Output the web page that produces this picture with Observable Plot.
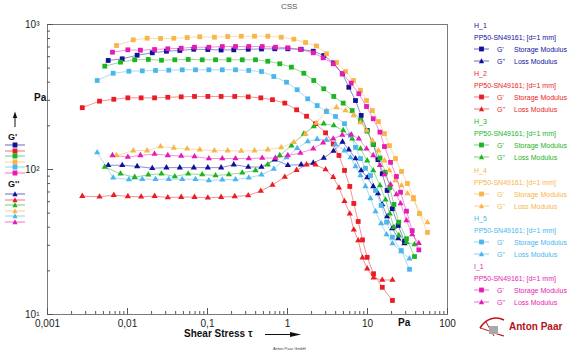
<!DOCTYPE html>
<html><head><meta charset="utf-8">
<script src="https://cdn.jsdelivr.net/npm/d3@7"></script>
<script src="https://cdn.jsdelivr.net/npm/@observablehq/plot@0.6"></script>
<style>
body{margin:0;background:#fff;}
#wrap{position:relative;width:579px;height:353px;font-family:"Liberation Sans",Arial,sans-serif;overflow:hidden;background:#fff;}
#wrap svg.plot{position:absolute;left:0;top:0;}
.abs{position:absolute;white-space:nowrap;line-height:1;transform:translateY(-50%);}
</style></head><body><div id="wrap"></div>
<script>
// ---- data (shear stress in Pa, moduli in Pa) ----
const sampleNames = ["H_1","H_2","H_3","H_4","H_5","I_1"];
const sampleColors = ["#10109a","#ea1c24","#1db322","#f7b54a","#4bb6ec","#e41cb3"];
const geometry = "PP50-SN49161; [d=1 mm]";

const stressH1 = [0.00574,0.00859,0.0132,0.0204,0.0307,0.0451,0.0674,0.101,0.148,0.213,0.323,0.473,0.693,1.01,1.48,2.10,2.84,3.76,4.87,5.84,7.08,8.34,9.91,11.8,13.5,15.3,17.6,20.4,24.2,29.0];
const storageH1 = [565,580,614,638,654,662,675,672,667,669,675,678,680,680,675,654,611,544,457,369,299,236,186,149,117,93.4,71.7,53.6,41.1,31.9];
const lossH1 = [107,107,105,102,103,103,103,103,103,108,104,104,117,107,108,111,120,134,155,137,119,98.4,88.1,76.4,68.3,57.4,47.4,39.2,33.4,30.9];

const stressH2 = [0.00272,0.00447,0.00674,0.0101,0.0148,0.0218,0.0319,0.0469,0.0688,0.101,0.148,0.219,0.323,0.464,0.649,0.925,1.30,1.73,2.24,2.99,3.73,4.40,5.16,6.01,6.74,7.65,8.66,9.91,11.9,15.3,20.5];
const storageH2 = [267,296,305,312,312,312,315,317,319,319,319,319,317,312,303,287,258,233,207,179,150,125,98.5,76.4,58.3,43.8,32.7,24.8,19.1,15.4,12.5];
const lossH2 = [65.5,64.9,66.5,65.2,64.9,65.5,64.1,64.5,64.5,63.8,64.5,65.2,66.2,71.1,78.2,88.8,98.9,108,108,100,88.5,74.8,60.4,49.5,38.4,32.4,24.6,20.7,17.9,17.3,17.3];

const stressH3 = [0.0052,0.00818,0.0123,0.0182,0.0266,0.039,0.0574,0.0859,0.126,0.185,0.272,0.398,0.567,0.801,1.12,1.60,2.13,2.84,3.79,4.97,6.44,8.18,9.91,11.8,14.3,16.8,19.0,21.4,24.6,30.7,38.7];
const storageH3 = [516,550,571,574,567,571,574,571,571,571,571,571,558,536,508,461,411,360,319,287,255,218,184,149,120,95.8,75.1,57.4,43.3,33.3,25.1];
const lossH3 = [104,93.4,88.5,91.9,93.4,89.5,93.4,92.4,90.9,92.4,94.9,98.4,108,125,146,176,198,207,201,186,163,139,115,98.4,77.6,61.8,49.5,40.0,35.1,31.5,30.4];

const stressH4 = [0.00729,0.0118,0.0176,0.0259,0.0379,0.0557,0.0801,0.122,0.179,0.264,0.387,0.567,0.834,1.20,1.68,2.30,3.07,4.10,5.31,6.68,8.18,9.72,11.5,13.7,16.3,18.8,22.4,26.6,31.6,37.6,44.7,56.2];
const storageH4 = [716,784,804,801,804,813,823,817,826,830,830,830,817,792,751,711,628,547,474,411,351,299,255,214,177,146,119,96.9,80.1,64.1,49.7,36.8];
const lossH4 = [125,135,135,144,141,139,137,135,135,134,135,137,142,154,176,209,255,268,255,236,211,186,158,135,115,98.4,84.0,77.6,68.3,62.1,49.7,43.1];

const stressH5 = [0.00418,0.00662,0.0104,0.0153,0.0224,0.0328,0.0483,0.0708,0.104,0.153,0.224,0.328,0.473,0.674,0.972,1.32,1.79,2.35,3.07,3.98,5.16,6.13,7.08,8.18,9.44,10.9,12.6,14.8,17.3,20.5,26.4,33.5];
const storageH5 = [411,461,476,479,482,484,487,487,487,487,487,482,474,438,400,355,307,276,251,232,207,172,142,119,102,90.9,71.7,56.5,43.3,34.1,27.6,20.5];
const lossH5 = [131,87.7,85.3,85.7,85.7,85.7,85.7,85.7,84.0,84.9,85.3,87.7,91.9,101,121,140,156,162,160,149,135,121,105,90.9,76.4,63.1,51.3,42.4,35.6,30.9,27.2,24.3];

const stressI1 = [0.00649,0.0101,0.0145,0.0218,0.0319,0.0469,0.0688,0.104,0.153,0.224,0.328,0.483,0.708,1.01,1.45,2.10,2.79,3.73,4.83,6.25,7.79,9.72,11.8,14.3,16.3,19.4,23.0,25.9,30.7,36.2,43.8];
const storageI1 = [644,669,665,672,680,686,697,697,705,705,705,705,697,691,672,638,589,536,457,394,333,272,224,181,144,112,89.5,69.7,51.6,37.9,27.9];
const lossI1 = [125,122,125,128,125,124,123,119,119,119,119,120,120,125,130,139,153,163,173,174,163,139,125,107,92.4,78.8,67.2,58.3,44.5,35.6,31.0];

const xMajor = [0.001,0.01,0.1,1,10,100];
const xMajorLabels = ["0,001","0,01","0,1","1","10","100"];
const yMajor = [10,100,1000];
const yMajorLabels = ["10¹","10²","10³"];

// ---- build ----
const stresses = [stressH1,stressH2,stressH3,stressH4,stressH5,stressI1];
const storages = [storageH1,storageH2,storageH3,storageH4,storageH5,storageI1];
const losses = [lossH1,lossH2,lossH3,lossH4,lossH5,lossI1];

const xMinor = [], yMinor = [];
for (const d of [0.001,0.01,0.1,1,10]) for (let k=2;k<=9;k++) xMinor.push(+(d*k).toPrecision(3));
for (const d of [10,100]) for (let k=2;k<=9;k++) yMinor.push(d*k);

const marks = [];
sampleNames.forEach((name, i) => {
  const c = sampleColors[i];
  const rp = stresses[i].map((x,j)=>({x, y: storages[i][j]}));
  const rpp = stresses[i].map((x,j)=>({x, y: losses[i][j]}));
  marks.push(Plot.line(rpp, {x:"x", y:"y", stroke:c, strokeWidth:0.8, strokeOpacity:0.6}));
  marks.push(Plot.line(rp, {x:"x", y:"y", stroke:c, strokeWidth:0.8, strokeOpacity:0.6}));
});
sampleNames.forEach((name, i) => {
  const c = sampleColors[i];
  const rp = stresses[i].map((x,j)=>({x, y: storages[i][j]}));
  const rpp = stresses[i].map((x,j)=>({x, y: losses[i][j]}));
  marks.push(Plot.dot(rpp, {x:"x", y:"y", symbol:"triangle", fill:c, r:2.3}));
  marks.push(Plot.dot(rp, {x:"x", y:"y", symbol:"square", fill:c, r:2.7}));
});

const plot = Plot.plot({
  width: 579, height: 353,
  marginLeft: 47, marginRight: 132, marginTop: 24, marginBottom: 39,
  style: {fontFamily: "Liberation Sans, Arial, sans-serif", fontSize: "10px", color: "#222", background: "transparent"},
  x: {type: "log", domain: [0.001, 100]},
  y: {type: "log", domain: [10, 1000]},
  marks: [
    Plot.frame({stroke: "#7a7a7a", strokeWidth: 1}),
    Plot.axisX({ticks: xMinor, tickSize: -3, text: null, label: null, stroke: "#555"}),
    Plot.axisX({ticks: xMajor, tickSize: -6, text: null, label: null, stroke: "#555"}),
    Plot.axisX({ticks: xMajor, tickSize: 0, tickPadding: 5, tickFormat: (d,i) => xMajorLabels[xMajor.indexOf(d)], label: null, fontSize: 10}),
    Plot.axisY({ticks: yMinor, tickSize: -3, text: null, label: null, stroke: "#555"}),
    Plot.axisY({ticks: yMajor, tickSize: -6, text: null, label: null, stroke: "#555"}),
    Plot.axisY({ticks: yMajor, tickSize: 0, tickPadding: 8, tickFormat: d => yMajorLabels[yMajor.indexOf(d)], label: null, fontSize: 10}),
    ...marks
  ]
});
plot.classList.add("plot");
const wrap = document.getElementById("wrap");
wrap.appendChild(plot);

function addText(txt, x, y, css) {
  const d = document.createElement("div");
  d.className = "abs";
  d.textContent = txt;
  d.style.left = x + "px"; d.style.top = y + "px";
  Object.assign(d.style, css || {});
  wrap.appendChild(d);
  return d;
}
function markerSvg(color, sym, x, y, w) {
  const ns = "http://www.w3.org/2000/svg";
  const s = document.createElementNS(ns, "svg");
  s.setAttribute("width", w); s.setAttribute("height", 8);
  s.style.position = "absolute"; s.style.left = x + "px"; s.style.top = (y - 4) + "px";
  const l = document.createElementNS(ns, "line");
  l.setAttribute("x1", 0); l.setAttribute("x2", w); l.setAttribute("y1", 4); l.setAttribute("y2", 4);
  l.setAttribute("stroke", color); l.setAttribute("stroke-width", 0.9); l.setAttribute("stroke-opacity", 0.7);
  s.appendChild(l);
  const m = document.createElementNS(ns, "path");
  const cx = w/2;
  if (sym === "square") m.setAttribute("d", `M${cx-2.4},1.6h4.8v4.8h-4.8z`);
  else m.setAttribute("d", `M${cx},1.3L${cx+2.6},6.2L${cx-2.6},6.2z`);
  m.setAttribute("fill", color);
  s.appendChild(m);
  wrap.appendChild(s);
}

// title & labels
addText("CSS", 281, 7, {fontSize: "8px", color: "#555"});
addText("Pa", 34, 98, {fontSize: "10px", fontWeight: "bold", color: "#111"});
addText("Pa", 398, 323, {fontSize: "10px", fontWeight: "bold", color: "#111"});
addText("Shear Stress τ", 184, 334, {fontSize: "10px", fontWeight: "bold", color: "#111"});
addText("Anton Paar GmbH", 273, 349, {fontSize: "4px", color: "#444"});

// axis arrow (x label)
(function(){
  const ns = "http://www.w3.org/2000/svg";
  const s = document.createElementNS(ns, "svg");
  s.setAttribute("width", 579); s.setAttribute("height", 353);
  s.style.position = "absolute"; s.style.left = "0px"; s.style.top = "0px";
  s.innerHTML = `
   <line x1="265" y1="334.5" x2="293" y2="334.5" stroke="#111" stroke-width="1"/>
   <path d="M290,332L301,334.5L290,337z" fill="#111"/>
   <line x1="15" y1="127" x2="15" y2="116" stroke="#111" stroke-width="1"/>
   <path d="M12.8,118L15,111.5L17.2,118z" fill="#111"/>
   <g transform="translate(478,316)">
     <path d="M2,12 C8,2 18,0 26,4" fill="none" stroke="#c0141c" stroke-width="1.6"/>
     <path d="M2,12 C10,14 18,18 26,20" fill="none" stroke="#c0141c" stroke-width="1.2"/>
     <path d="M8,6 L16,20" fill="none" stroke="#c0141c" stroke-width="1"/>
     <rect x="11" y="10" width="9" height="8" fill="#a8a8a8"/>
   </g>`;
  wrap.appendChild(s);
})();
addText("Anton Paar", 509, 327, {fontSize: "10px", fontWeight: "bold", color: "#b3121b"});

// left legend
addText("G'", 8, 137, {fontSize: "9px", fontWeight: "bold", color: "#111"});
addText("G''", 8, 184, {fontSize: "9px", fontWeight: "bold", color: "#111"});
const gpY = [145,150.5,156,161.5,167,172.5];
const gppY = [194,199.5,205,210.5,216,221.5];
sampleColors.forEach((c,i) => {
  markerSvg(c, "square", 5, gpY[i], 20);
  markerSvg(c, "triangle", 5, gppY[i], 20);
});

// right legend
sampleNames.forEach((name, i) => {
  const c = sampleColors[i];
  const y0 = 25 + i*48.2;
  addText(name, 474, y0, {fontSize: "7px", color: c});
  addText(geometry, 474, y0+12, {fontSize: "7px", color: c});
  markerSvg(c, "square", 474, y0+24, 15);
  addText("G'", 497, y0+24, {fontSize: "7px", color: c});
  addText("Storage Modulus", 514, y0+24, {fontSize: "7px", color: c});
  markerSvg(c, "triangle", 474, y0+36, 15);
  addText("G''", 497, y0+36, {fontSize: "7px", color: c});
  addText("Loss Modulus", 514, y0+36, {fontSize: "7px", color: c});
});
</script></body></html>
